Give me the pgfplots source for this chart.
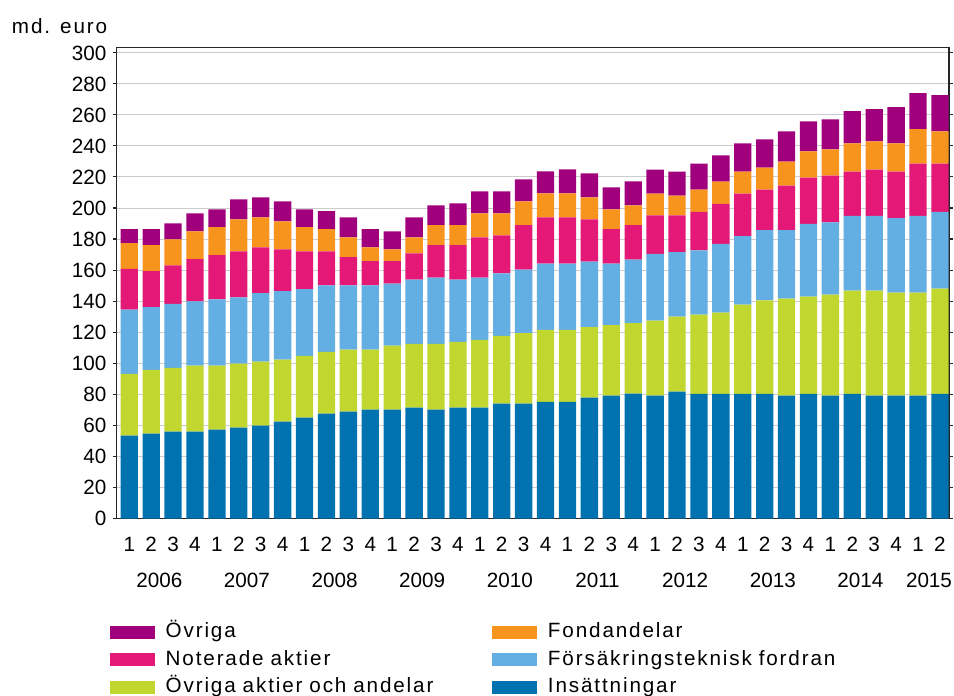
\documentclass[border=0pt]{standalone}
\usepackage{fontspec}
\setmainfont{Liberation Sans}
\newfontfamily\legfont[LetterSpace=9]{Liberation Sans}
\usepackage{pgfplots}
\usepackage{pgfplotstable}
\pgfplotsset{compat=1.18}
\definecolor{cIns}{RGB}{0,114,176}
\definecolor{cOvr}{RGB}{193,215,47}
\definecolor{cFor}{RGB}{99,174,226}
\definecolor{cNot}{RGB}{228,24,119}
\definecolor{cFon}{RGB}{247,148,30}
\definecolor{cOvg}{RGB}{161,0,125}

\pgfplotstableread{
x ins ovr fors not fond ovg
0 53.4 39.8 41.4 26.2 16.5 9.0
1 54.7 41.1 40.3 23.2 16.7 10.3
2 55.9 41.2 41.2 24.8 16.7 10.3
3 55.9 42.5 41.4 27.2 18.0 11.6
4 57.2 41.2 42.7 28.5 18.0 11.5
5 58.5 41.2 42.8 29.6 20.6 12.9
6 59.8 41.2 44.1 29.6 19.3 12.9
7 62.4 39.9 44.1 27.0 18.0 12.9
8 65.0 39.8 42.9 24.4 15.5 11.5
9 67.5 39.9 42.7 22.0 14.2 11.6
10 68.8 39.9 41.4 18.2 12.8 12.9
11 70.1 38.6 41.4 15.6 9.0 11.6
12 70.1 41.2 40.0 14.4 7.7 11.6
13 71.4 41.1 41.4 16.9 10.3 12.9
14 70.1 42.4 42.7 20.8 12.9 12.8
15 71.4 42.4 40.1 22.1 12.9 14.1
16 71.4 43.7 40.1 25.9 15.5 14.1
17 74.0 43.7 40.1 24.6 14.2 14.1
18 74.0 45.4 40.9 28.6 15.4 14.1
19 75.2 46.3 42.7 29.8 15.4 14.2
20 75.2 46.3 42.7 29.8 15.4 15.5
21 77.8 45.5 42.2 27.2 14.2 15.4
22 79.1 45.4 39.7 22.1 12.8 14.2
23 80.4 45.4 41.0 22.1 12.8 15.5
24 79.2 48.2 43.1 24.7 14.0 15.5
25 81.8 48.2 41.6 23.6 12.7 15.5
26 80.3 51.0 41.4 24.8 14.3 16.8
27 80.3 52.3 44.2 25.9 14.3 16.8
28 80.3 57.4 44.1 27.4 14.2 18.2
29 80.3 60.2 45.2 26.1 14.2 18.2
30 79.2 62.4 44.1 28.7 15.5 19.5
31 80.3 62.6 46.9 29.8 16.8 19.4
32 79.2 65.0 46.6 30.1 16.8 19.4
33 80.3 66.5 48.1 28.5 18.2 20.7
34 79.2 67.6 48.1 29.8 18.2 20.7
35 79.2 66.3 47.9 30.0 18.2 23.3
36 79.2 66.3 49.4 33.7 22.1 23.3
37 80.3 67.8 49.4 31.1 20.8 23.3
}\data

\begin{document}
\begin{tikzpicture}
\useasboundingbox (-87.5pt,-132.4pt) rectangle (628pt,388.9pt);
\begin{axis}[
  name=ax, at={(0,0)}, anchor=south west,
  scale only axis, width=624.2pt, height=353.1pt,
  ybar stacked, bar width=0.79,
  xmin=-0.575, xmax=37.41, ymin=0, ymax=303.2,
  ytick={0,20,...,300},
  xtick={0,...,37},
  xticklabels={1,2,3,4,1,2,3,4,1,2,3,4,1,2,3,4,1,2,3,4,1,2,3,4,1,2,3,4,1,2,3,4,1,2,3,4,1,2},
  extra x ticks={1.37,5.37,9.37,13.37,17.37,21.37,25.37,29.37,33.37,36.5},
  extra x tick labels={2006,2007,2008,2009,2010,2011,2012,2013,2014,2015},
  extra x tick style={xticklabel style={yshift=-30pt}, major tick length=0pt},
  /pgf/number format/assume math mode=true,
  tick align=outside,
  major tick length=3pt,
  xtick style={draw=none},
  ytick style={black!85, line width=0.8pt},
  axis line style={black!85, line width=1.1pt},
  ymajorgrids,
  major grid style={gray!40, line width=0.7pt},
  ticklabel style={font=\fontsize{15.5}{18}\selectfont, inner sep=0pt, text height=11.1pt, text depth=0pt},
  yticklabel shift=4.5pt,
  xticklabel shift=10.1pt,
  legend columns=2,
  reverse legend,
  legend cell align=left,
  legend image code/.code={\fill[#1] (0pt,-4.875pt) rectangle (33.75pt,4.875pt);},
  legend style={draw=none, fill=none, inner sep=0pt, outer sep=0pt,
    at={(0,0)}, anchor=north west, xshift=-5pt, yshift=-78pt,
    row sep=5.6pt, column sep=0pt,
    font=\legfont\fontsize{15.5}{18}\selectfont,
    /tikz/every odd column/.append style={column sep=8pt},
    nodes={inner sep=0pt, text width=245pt, align=left, text height=11.5pt, text depth=3.5pt}},
]
\addplot[fill=cIns, draw=none] table[x=x, y=ins] {\data};
\addlegendentry{Insättningar}
\addplot[fill=cOvr, draw=none] table[x=x, y=ovr] {\data};
\addlegendentry{Övriga aktier och andelar}
\addplot[fill=cFor, draw=none] table[x=x, y=fors] {\data};
\addlegendentry{Försäkringsteknisk fordran}
\addplot[fill=cNot, draw=none] table[x=x, y=not] {\data};
\addlegendentry{Noterade aktier}
\addplot[fill=cFon, draw=none] table[x=x, y=fond] {\data};
\addlegendentry{Fondandelar}
\addplot[fill=cOvg, draw=none] table[x=x, y=ovg] {\data};
\addlegendentry{Övriga}
\end{axis}
\node[anchor=base west, inner sep=0pt, font=\legfont\fontsize{15.5}{18}\selectfont] at ([xshift=-78.75pt, yshift=10.8pt]ax.north west) {md. euro};
\end{tikzpicture}
\end{document}
